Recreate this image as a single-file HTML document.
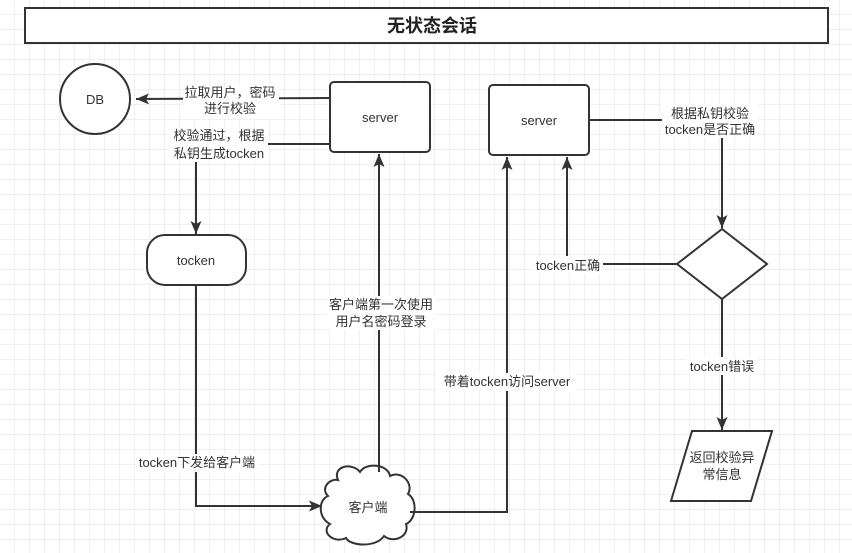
<!DOCTYPE html>
<html><head><meta charset="utf-8"><style>
html,body{margin:0;padding:0;background:#fff}
svg{display:block}
text{font-family:"Liberation Sans","Noto Sans CJK SC",sans-serif;font-size:13px;fill:#333}
</style></head><body>
<svg width="852" height="553" xmlns="http://www.w3.org/2000/svg">
<defs>
<pattern id="g" width="15" height="15" patternUnits="userSpaceOnUse">
<path d="M15 0V15H0" fill="none" stroke="#e2e2e2" stroke-width="1"/>
</pattern>
<marker id="a" markerWidth="14" markerHeight="12" refX="13" refY="6" orient="auto" markerUnits="userSpaceOnUse">
<path d="M0,0.5 L13,6 L0,11.5 L3,6 Z" fill="#333"/>
</marker>
</defs>
<rect width="852" height="553" fill="url(#g)"/>
<g stroke="#333" stroke-width="2" fill="#fff">
<rect x="25" y="8" width="803" height="35"/>
<circle cx="95" cy="99" r="35"/>
<rect x="330" y="82" width="100" height="70" rx="4"/>
<rect x="489" y="85" width="100" height="70" rx="4"/>
<rect x="147" y="235" width="99" height="50" rx="18"/>
<path d="M722,229 L767,264 L722,299 L677,264 Z"/>
<path d="M692,431 L772,431 L751,501 L671,501 Z"/>
<path d="M338,480 C332,466 352,462 360,472 C366,462 388,464 390,476 C402,470 414,484 408,494 C418,500 416,520 406,524 C410,536 394,544 384,536 C376,548 350,546 346,538 C334,544 320,532 330,524 C318,518 318,500 328,496 C320,488 330,478 338,480 Z"/>
</g>
<g stroke="#333" stroke-width="2" fill="none">
<path d="M330,98 L136,99" marker-end="url(#a)"/>
<path d="M330,144 L196,144 L196,234" marker-end="url(#a)"/>
<path d="M196,285 L196,506 L322,506" marker-end="url(#a)"/>
<path d="M379,472 L379,154" marker-end="url(#a)"/>
<path d="M410,512 L507,512 L507,157" marker-end="url(#a)"/>
<path d="M589,120 L722,120 L722,228" marker-end="url(#a)"/>
<path d="M677,264 L567,264 L567,157" marker-end="url(#a)"/>
<path d="M722,299 L722,430" marker-end="url(#a)"/>
</g>
<g fill="#fff">
<rect x="183" y="85" width="96" height="34"/>
<rect x="170" y="128" width="98" height="34"/>
<rect x="136" y="454" width="123" height="18"/>
<rect x="327" y="296" width="108" height="34"/>
<rect x="437" y="373" width="140" height="18"/>
<rect x="662" y="104" width="96" height="34"/>
<rect x="533" y="256" width="70" height="18"/>
<rect x="686" y="357" width="72" height="18"/>
</g>
<text x="432" y="32" text-anchor="middle" style="font-size:18px;font-weight:bold;fill:#222">无状态会话</text>
<text x="95" y="104" text-anchor="middle">DB</text>
<text x="380" y="122" text-anchor="middle">server</text>
<text x="539" y="125" text-anchor="middle">server</text>
<text x="196" y="265" text-anchor="middle">tocken</text>
<text x="368" y="512" text-anchor="middle">客户端</text>
<text x="230" y="97" text-anchor="middle">拉取用户，密码</text>
<text x="230" y="113" text-anchor="middle">进行校验</text>
<text x="219" y="140" text-anchor="middle">校验通过，根据</text>
<text x="219" y="158" text-anchor="middle">私钥生成tocken</text>
<text x="197" y="467" text-anchor="middle">tocken下发给客户端</text>
<text x="381" y="309" text-anchor="middle">客户端第一次使用</text>
<text x="381" y="326" text-anchor="middle">用户名密码登录</text>
<text x="507" y="386" text-anchor="middle">带着tocken访问server</text>
<text x="710" y="118" text-anchor="middle">根据私钥校验</text>
<text x="710" y="134" text-anchor="middle">tocken是否正确</text>
<text x="568" y="270" text-anchor="middle">tocken正确</text>
<text x="722" y="371" text-anchor="middle">tocken错误</text>
<text x="722" y="462" text-anchor="middle">返回校验异</text>
<text x="722" y="479" text-anchor="middle">常信息</text>
</svg>
</body></html>
